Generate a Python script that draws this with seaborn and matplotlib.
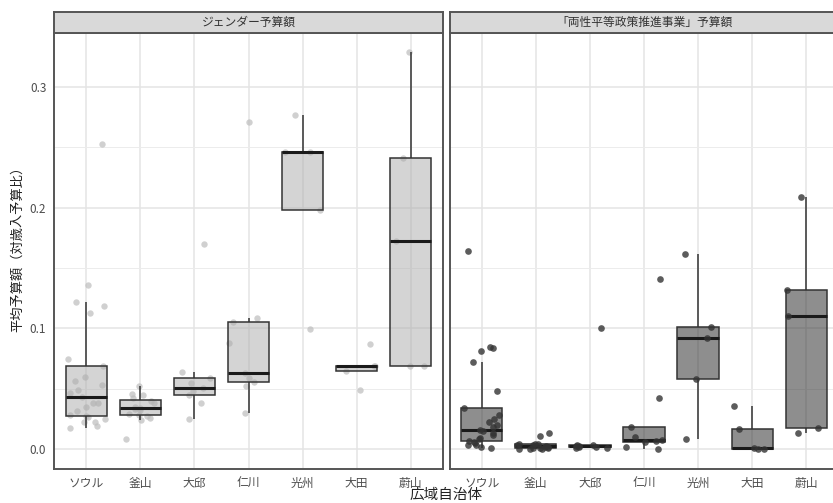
import numpy as np
import pandas as pd
import matplotlib
matplotlib.use("Agg")
import matplotlib.pyplot as plt
from matplotlib.colors import to_rgba
import seaborn as sns

sns.set_style("white")
plt.rcParams["font.family"] = ["Noto Sans CJK JP", "DejaVu Sans"]

# Metropolitan governments (x categories)
cities = ["ソウル", "釜山", "大邱", "仁川", "光州", "大田", "蔚山"]
panel_titles = ["ジェンダー予算額", "「両性平等政策推進事業」予算額"]
y_ticks = [0.0, 0.1, 0.2, 0.3]
y_tick_labels = ["0.0", "0.1", "0.2", "0.3"]

# Gender budget, share of total revenue budget, by local unit
gender_seoul = [0.0171, 0.019, 0.0224, 0.0226, 0.0251, 0.0265, 0.0273, 0.0279,
                0.0318, 0.0345, 0.0379, 0.0379, 0.0433, 0.0461, 0.0489, 0.0528,
                0.0566, 0.0594, 0.0688, 0.0743, 0.113, 0.1185, 0.1218, 0.136, 0.253]
gender_busan = [0.0083, 0.0238, 0.0255, 0.0275, 0.028, 0.029, 0.032, 0.0332,
                0.0342, 0.035, 0.038, 0.040, 0.0424, 0.0444, 0.0452, 0.0522]
gender_daegu = [0.0246, 0.0384, 0.0445, 0.048, 0.0505, 0.055, 0.0588, 0.0635, 0.170]
gender_incheon = [0.030, 0.052, 0.0558, 0.059, 0.0627, 0.088, 0.105, 0.1083, 0.271]
gender_gwangju = [0.0992, 0.1977, 0.2458, 0.2463, 0.2767]
gender_daejeon = [0.0489, 0.0646, 0.0688, 0.069, 0.087]
gender_ulsan = [0.0688, 0.069, 0.172, 0.2414, 0.3286]

# Gender-equality policy programme budget, share of total revenue budget
policy_seoul = [0.0011, 0.002, 0.003, 0.0035, 0.005, 0.006, 0.0069, 0.008,
                0.0095, 0.0116, 0.013, 0.0145, 0.0157, 0.018, 0.020, 0.0221,
                0.0246, 0.028, 0.0342, 0.0483, 0.0718, 0.0812, 0.0839, 0.0845, 0.1643]
policy_busan = [0.0001, 0.0002, 0.0003, 0.0005, 0.0008, 0.001, 0.0015, 0.002,
                0.0025, 0.003, 0.0035, 0.0038, 0.004, 0.0045, 0.011, 0.013]
policy_daegu = [0.0008, 0.001, 0.0015, 0.002, 0.0022, 0.0025, 0.003, 0.0035, 0.1005]
policy_incheon = [0.0003, 0.0014, 0.0058, 0.0065, 0.0077, 0.0102, 0.018, 0.0422, 0.1406]
policy_gwangju = [0.008, 0.0577, 0.0917, 0.1013, 0.1616]
policy_daejeon = [0.0002, 0.0003, 0.001, 0.0163, 0.0354]
policy_ulsan = [0.013, 0.0171, 0.110, 0.1317, 0.209]

gender_series = [gender_seoul, gender_busan, gender_daegu, gender_incheon,
                 gender_gwangju, gender_daejeon, gender_ulsan]
policy_series = [policy_seoul, policy_busan, policy_daegu, policy_incheon,
                 policy_gwangju, policy_daejeon, policy_ulsan]


def long_frame(series):
    rows = []
    for city, vals in zip(cities, series):
        for v in vals:
            rows.append({"city": city, "value": v})
    return pd.DataFrame(rows)


W, H = 833, 503
fig = plt.figure(figsize=(W / 100, H / 100), dpi=100)

panel_top, panel_bottom = 33, 469
strip_top = 12
panel_w = 389
panels = [
    dict(left=54, data=long_frame(gender_series), box="#ababab", pt="#bdbdbd",
         pt_alpha=0.7, pt_size=4.6, pt_z=1.5, show_y=True),
    dict(left=449.5, data=long_frame(policy_series), box="#1f1f1f", pt="#333333",
         pt_alpha=0.8, pt_size=4.8, pt_z=3, show_y=False),
]

np.random.seed(7)
border = "#555555"
for spec, title in zip(panels, panel_titles):
    ax = fig.add_axes([spec["left"] / W, 1 - panel_bottom / H,
                       panel_w / W, (panel_bottom - panel_top) / H])
    sns.stripplot(data=spec["data"], x="city", y="value", order=cities, ax=ax,
                  jitter=0.36, color=spec["pt"], alpha=spec["pt_alpha"],
                  size=spec["pt_size"], linewidth=0, zorder=spec["pt_z"])
    sns.boxplot(data=spec["data"], x="city", y="value", order=cities, ax=ax,
                width=0.76, whis=1.5, showfliers=False, showcaps=False,
                color=spec["box"], linecolor="#333333", linewidth=1.1,
                medianprops=dict(color="#1a1a1a", linewidth=2.2))
    for p in ax.patches:
        p.set_facecolor(to_rgba(spec["box"], 0.5))
        p.set_zorder(2)

    ax.set_xlim(-0.6, 6.6)
    ax.set_ylim(-0.0166, 0.3447)
    ax.set_yticks(y_ticks)
    ax.set_yticks([0.05, 0.15, 0.25], minor=True)
    ax.set_axisbelow(True)
    ax.grid(True, which="major", color="#e4e4e4", linewidth=1.1)
    ax.grid(True, which="minor", axis="y", color="#ececec", linewidth=0.7)
    ax.set_xlabel("")
    ax.set_ylabel("")
    ax.tick_params(axis="x", length=3.5, width=0.8, color="#333333",
                   labelsize=8.5, labelcolor="#4d4d4d", pad=2)
    ax.tick_params(axis="y", which="minor", length=0)
    if spec["show_y"]:
        ax.set_yticklabels(y_tick_labels)
        ax.tick_params(axis="y", which="major", length=3.5, width=0.8,
                       color="#333333", labelsize=8.5, labelcolor="#4d4d4d", pad=2)
    else:
        ax.tick_params(axis="y", which="major", length=0, labelleft=False)
    for s in ax.spines.values():
        s.set_color(border)
        s.set_linewidth(1.4)

    # facet strip
    sax = fig.add_axes([spec["left"] / W, 1 - panel_top / H,
                        panel_w / W, (panel_top - strip_top) / H])
    sax.set_facecolor("#d9d9d9")
    sax.set_xticks([])
    sax.set_yticks([])
    for s in sax.spines.values():
        s.set_color(border)
        s.set_linewidth(1.4)
    sax.text(0.5, 0.5, title, ha="center", va="center", fontsize=8.5,
             color="#333333", transform=sax.transAxes)

fig.text(446 / W, 1 - 495 / H, "広域自治体", ha="center", va="center",
         fontsize=10.5, color="#222222")
fig.text(18 / W, 1 - 246 / H, "平均予算額（対歳入予算比）", ha="center",
         va="center", rotation=90, fontsize=9.5, color="#222222")

fig.savefig("out.png", dpi=100)
